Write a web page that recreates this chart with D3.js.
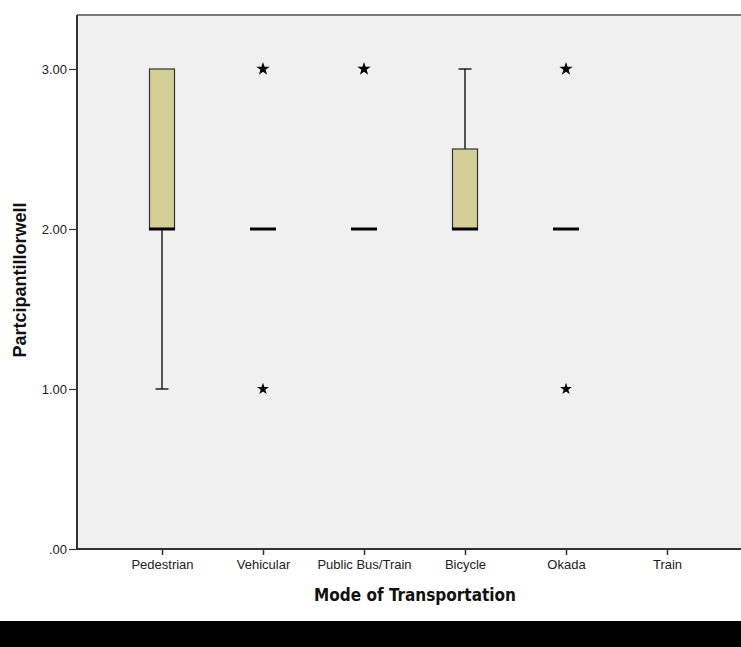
<!DOCTYPE html>
<html>
<head>
<meta charset="utf-8">
<script src="https://cdn.jsdelivr.net/npm/d3@7"></script>
<style>
  body { margin: 0; background: #fff; }
  .tick text { font-family: "Liberation Sans", Arial, sans-serif; font-size: 13px; fill: #222; }
  .tick line { stroke: #333; }
  .domain { stroke: #333; }
</style>
</head>
<body>
<svg width="741" height="647"></svg>
<script>
// categories + box stats
const modes = ["Pedestrian", "Vehicular", "Public Bus/Train", "Bicycle", "Okada", "Train"];
const q1 =     [2, 2, 2, 2, 2, null];
const median = [2, 2, 2, 2, 2, null];
const q3 =     [3, 2, 2, 2.5, 2, null];
const lowW =   [1, 2, 2, 2, 2, null];
const highW =  [3, 2, 2, 3, 2, null];
// extreme values (SPSS stars)
const extremes = [
    { mode: "Vehicular", value: 3 },
    { mode: "Vehicular", value: 1 },
    { mode: "Public Bus/Train", value: 3 },
    { mode: "Okada", value: 3 },
    { mode: "Okada", value: 1 }
];
const yTicks = [0, 1, 2, 3];

const margin = { top: 15, left: 77 },
    width = 700,
    height = 534;

const svg = d3.select("svg");

// black strip at the bottom of the screenshot
svg.append("rect")
    .attr("x", 0).attr("y", 621)
    .attr("width", 741).attr("height", 26)
    .attr("fill", "#000");

const g = svg.append("g")
    .attr("transform", "translate(" + margin.left + "," + margin.top + ")");

let x = d3.scalePoint().domain(modes).range([85, 590]);
let y = d3.scaleLinear().domain([0, 3.3375]).range([height, 0]);

// plot background
g.append("rect")
    .attr("width", width).attr("height", height)
    .attr("fill", "#f0f0f0");

// top frame line
g.append("line")
    .attr("x1", 0).attr("x2", width)
    .attr("y1", 0).attr("y2", 0)
    .attr("stroke", "#7a7a7a")
    .attr("stroke-width", 2);

const data = modes.map((m, i) => ({
    mode: m, q1: q1[i], median: median[i], q3: q3[i], lo: lowW[i], hi: highW[i]
})).filter(d => d.median !== null);

const boxW = 25, capW = 13, medW = 26;

// whiskers
g.selectAll(".whisker")
    .data(data.filter(d => d.hi > d.q3 || d.lo < d.q1))
    .enter().append("g")
    .each(function(d) {
        const s = d3.select(this), cx = x(d.mode);
        if (d.hi > d.q3) {
            s.append("line").attr("x1", cx).attr("x2", cx).attr("y1", y(d.q3)).attr("y2", y(d.hi));
            s.append("line").attr("x1", cx - capW / 2).attr("x2", cx + capW / 2).attr("y1", y(d.hi)).attr("y2", y(d.hi));
        }
        if (d.lo < d.q1) {
            s.append("line").attr("x1", cx).attr("x2", cx).attr("y1", y(d.q1)).attr("y2", y(d.lo));
            s.append("line").attr("x1", cx - capW / 2).attr("x2", cx + capW / 2).attr("y1", y(d.lo)).attr("y2", y(d.lo));
        }
    })
    .selectAll("line")
    .attr("stroke", "#000")
    .attr("stroke-width", 1.3);

// boxes
g.selectAll(".box")
    .data(data.filter(d => d.q3 > d.q1))
    .enter().append("rect")
    .attr("class", "box")
    .attr("x", d => x(d.mode) - boxW / 2)
    .attr("width", boxW)
    .attr("y", d => y(d.q3))
    .attr("height", d => y(d.q1) - y(d.q3))
    .attr("fill", "#d3cf97")
    .attr("stroke", "#333")
    .attr("stroke-width", 1.2);

// medians
g.selectAll(".median")
    .data(data)
    .enter().append("line")
    .attr("x1", d => x(d.mode) - medW / 2)
    .attr("x2", d => x(d.mode) + medW / 2)
    .attr("y1", d => y(d.median))
    .attr("y2", d => y(d.median))
    .attr("stroke", "#000")
    .attr("stroke-width", 3);

// extreme stars
g.selectAll(".star")
    .data(extremes)
    .enter().append("path")
    .attr("transform", d => "translate(" + x(d.mode) + "," + y(d.value) + ")")
    .attr("d", d => d3.symbol().type(d3.symbolStar).size(d.value === 3 ? 56 : 44)())
    .attr("fill", "#000");

// axes
g.append("g")
    .attr("transform", "translate(0," + height + ")")
    .call(d3.axisBottom(x).tickSize(6).tickPadding(5))
    .call(a => a.select(".domain").attr("stroke-width", 2).attr("d", "M0,0H" + width))
    .call(a => a.selectAll(".tick line").attr("stroke-width", 1.5));

g.append("g")
    .call(d3.axisLeft(y).tickValues(yTicks).tickSize(8).tickPadding(2)
        .tickFormat(d => d3.format(".2f")(d).replace(/^0/, "")))
    .call(a => a.select(".domain").attr("stroke", "#555").attr("stroke-width", 2).attr("d", "M0,0V" + height))
    .call(a => a.selectAll(".tick line").attr("stroke-width", 1.2))
    .call(a => a.selectAll(".tick text").attr("dy", "0.35em"));

// labels
svg.append("text")
    .attr("x", 415)
    .attr("y", 601)
    .attr("text-anchor", "middle")
    .style("font-family", "'DejaVu Sans Condensed', 'DejaVu Sans', sans-serif")
    .style("font-weight", "bold")
    .style("font-size", "17px")
    .style("fill", "#111")
    .text("Mode of Transportation");

svg.append("text")
    .attr("transform", "translate(26,280) rotate(-90)")
    .attr("text-anchor", "middle")
    .style("font-family", "'Liberation Sans', Arial, sans-serif")
    .style("font-weight", "bold")
    .style("font-size", "18px")
    .style("fill", "#111")
    .text("Partcipantillorwell");
</script>
</body>
</html>
